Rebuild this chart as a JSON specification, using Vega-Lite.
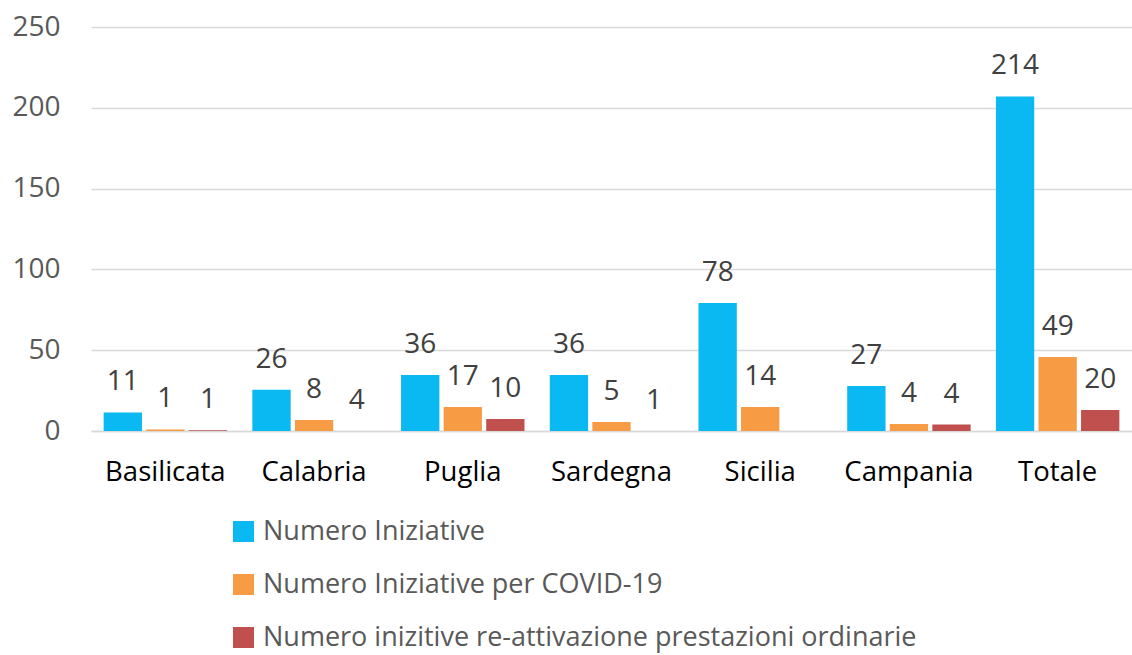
{
  "$schema": "https://vega.github.io/schema/vega-lite/v6.json",
  "width": 1041,
  "height": 404,
  "autosize": {"type": "none"},
  "padding": {"left": 91, "top": 27, "right": 0, "bottom": 224},
  "background": "white",
  "config": {
    "font": "Open Sans",
    "view": {"stroke": null}
  },
  "data": {
    "values": [
      {"regione": "Basilicata", "serie": "Numero Iniziative", "bar": 11.5, "label": "11"},
      {"regione": "Basilicata", "serie": "Numero Iniziative per COVID-19", "bar": 1, "label": "1"},
      {"regione": "Basilicata", "serie": "Numero inizitive re-attivazione prestazioni ordinarie", "bar": 0.5, "label": "1"},
      {"regione": "Calabria", "serie": "Numero Iniziative", "bar": 25.5, "label": "26"},
      {"regione": "Calabria", "serie": "Numero Iniziative per COVID-19", "bar": 6.8, "label": "8"},
      {"regione": "Calabria", "serie": "Numero inizitive re-attivazione prestazioni ordinarie", "bar": 0, "label": "4"},
      {"regione": "Puglia", "serie": "Numero Iniziative", "bar": 34.6, "label": "36"},
      {"regione": "Puglia", "serie": "Numero Iniziative per COVID-19", "bar": 14.9, "label": "17"},
      {"regione": "Puglia", "serie": "Numero inizitive re-attivazione prestazioni ordinarie", "bar": 7.4, "label": "10"},
      {"regione": "Sardegna", "serie": "Numero Iniziative", "bar": 34.6, "label": "36"},
      {"regione": "Sardegna", "serie": "Numero Iniziative per COVID-19", "bar": 5.6, "label": "5"},
      {"regione": "Sardegna", "serie": "Numero inizitive re-attivazione prestazioni ordinarie", "bar": 0, "label": "1"},
      {"regione": "Sicilia", "serie": "Numero Iniziative", "bar": 79.2, "label": "78"},
      {"regione": "Sicilia", "serie": "Numero Iniziative per COVID-19", "bar": 14.9, "label": "14"},
      {"regione": "Campania", "serie": "Numero Iniziative", "bar": 27.8, "label": "27"},
      {"regione": "Campania", "serie": "Numero Iniziative per COVID-19", "bar": 4.3, "label": "4"},
      {"regione": "Campania", "serie": "Numero inizitive re-attivazione prestazioni ordinarie", "bar": 4, "label": "4"},
      {"regione": "Totale", "serie": "Numero Iniziative", "bar": 207, "label": "214"},
      {"regione": "Totale", "serie": "Numero Iniziative per COVID-19", "bar": 45.8, "label": "49"},
      {"regione": "Totale", "serie": "Numero inizitive re-attivazione prestazioni ordinarie", "bar": 13, "label": "20"}
    ]
  },
  "encoding": {
    "x": {
      "field": "regione",
      "type": "nominal",
      "sort": ["Basilicata", "Calabria", "Puglia", "Sardegna", "Sicilia", "Campania", "Totale"],
      "scale": {"paddingInner": 0.17, "paddingOuter": 0.085},
      "axis": {
        "title": null,
        "labelAngle": 0,
        "ticks": false,
        "labelPadding": 27,
        "labelFontSize": 27.5,
        "labelColor": "#000000",
        "domainColor": "#d9d9d9",
        "domainWidth": 1.5
      }
    },
    "xOffset": {
      "field": "serie",
      "type": "nominal",
      "sort": ["Numero Iniziative", "Numero Iniziative per COVID-19", "Numero inizitive re-attivazione prestazioni ordinarie"],
      "scale": {"paddingInner": 0.1}
    },
    "y": {
      "field": "bar",
      "type": "quantitative",
      "scale": {"domain": [0, 250], "nice": false},
      "axis": {
        "title": null,
        "values": [0, 50, 100, 150, 200, 250],
        "domain": false,
        "ticks": false,
        "labelPadding": 31,
        "labelFontSize": 28,
        "labelColor": "#595959",
        "gridColor": "#d9d9d9",
        "gridWidth": 1.5
      }
    }
  },
  "layer": [
    {
      "mark": {"type": "bar"},
      "encoding": {
        "color": {
          "field": "serie",
          "type": "nominal",
          "scale": {
            "domain": ["Numero Iniziative", "Numero Iniziative per COVID-19", "Numero inizitive re-attivazione prestazioni ordinarie"],
            "range": ["#0ab8f2", "#f89b45", "#c0504d"]
          },
          "legend": {
            "title": null,
            "orient": "none",
            "direction": "vertical",
            "legendX": 139,
            "legendY": 491,
            "symbolType": "square",
            "symbolSize": 441,
            "symbolStrokeWidth": 0,
            "symbolOpacity": 1,
            "labelFontSize": 27,
            "labelColor": "#595959",
            "labelOffset": 6,
            "rowPadding": 25,
            "labelLimit": 900
          }
        }
      }
    },
    {
      "mark": {"type": "text", "dy": -30, "baseline": "middle", "fontSize": 28, "color": "#404040"},
      "encoding": {
        "text": {"field": "label"}
      }
    }
  ]
}
